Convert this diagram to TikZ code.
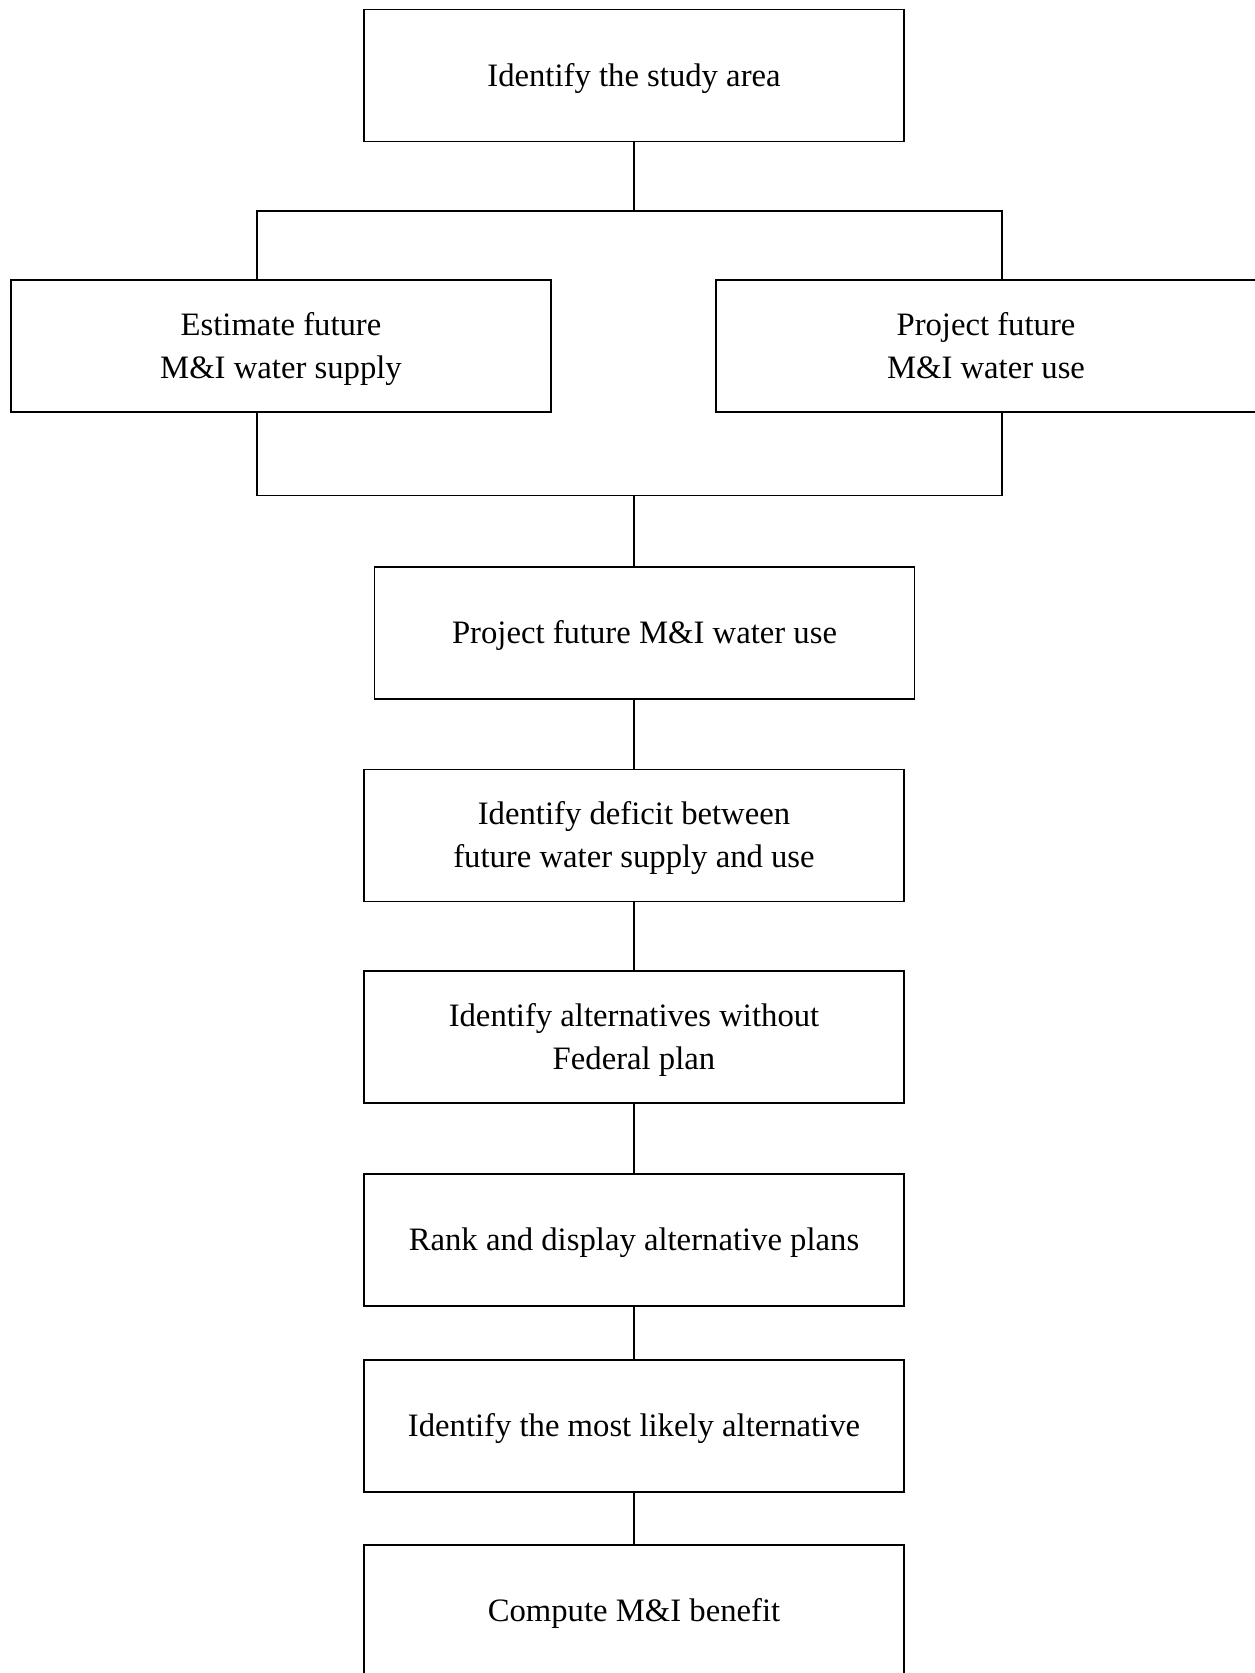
\documentclass[tikz,border=0pt]{standalone}
\usepackage{fontspec}
\setmainfont{Liberation Serif}
\begin{document}
\begin{tikzpicture}[x=1pt,y=-1pt,
  stepbox/.style={draw=black, line width=1.8pt, rectangle, minimum width=540pt, minimum height=132pt, inner sep=0pt, align=center, text height=21.6pt, text depth=0pt, font=\fontsize{32.7}{42.7}\selectfont},
  twoline/.style={text height=64.3pt},
  link/.style={draw=black, line width=1.8pt}]
\clip (0,0) rectangle (1255,1673);
\fill[white] (0,0) rectangle (1255,1673);
\node[stepbox] (top) at (634,75.5) {Identify the study area};
\node[stepbox,twoline] (left) at (281,346) {Estimate future\\M\&I water supply};
\node[stepbox,twoline] (right) at (986,346) {Project future\\M\&I water use};
\node[stepbox] (b3) at (644.5,633) {Project future M\&I water use};
\node[stepbox,twoline] (b4) at (634,835.5) {Identify deficit between\\future water supply and use};
\node[stepbox,twoline] (b5) at (634,1037) {Identify alternatives without\\Federal plan};
\node[stepbox] (b6) at (634,1240) {Rank and display alternative plans};
\node[stepbox] (b7) at (634,1426) {Identify the most likely alternative};
\node[stepbox] (b8) at (634,1611) {Compute M\&I benefit};
\coordinate (j1) at (634,211);
\coordinate (jl) at (257,211);
\coordinate (jr) at (1002,211);
\coordinate (k1) at (634,495.5);
\coordinate (kl) at (257,495.5);
\coordinate (kr) at (1002,495.5);
\draw[link] (top.south) -- (j1);
\draw[link] (jl |- left.north) -- (jl) -- (jr) -- (jr |- right.north);
\draw[link] (kl |- left.south) -- (kl) -- (kr) -- (kr |- right.south);
\draw[link] (k1) -- (k1 |- b3.north);
\draw[link] (k1 |- b3.south) -- (b4.north);
\draw[link] (b4.south) -- (b5.north);
\draw[link] (b5.south) -- (b6.north);
\draw[link] (b6.south) -- (b7.north);
\draw[link] (b7.south) -- (b8.north);
\end{tikzpicture}
\end{document}
